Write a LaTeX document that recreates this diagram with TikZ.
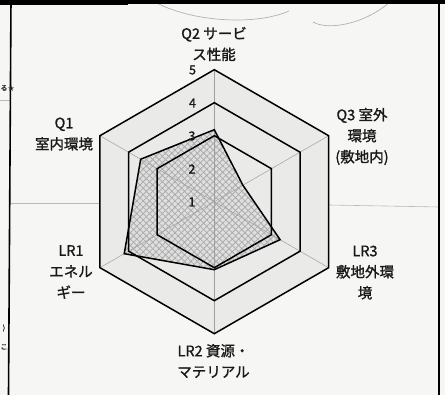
\documentclass[tikz,border=0pt]{standalone}
\usepackage{fontspec}
\newfontfamily\jp[FakeBold=1.2]{Noto Sans CJK JP}
\newfontfamily\dv{DejaVu Sans}
\usetikzlibrary{patterns.meta}
\definecolor{paper}{RGB}{246,246,244}
\definecolor{plotbg}{RGB}{234,234,232}
\tikzset{
  ring/.style={draw=black, line width=1.5pt, line join=miter},
  spoke/.style={draw=gray!75, line width=0.5pt},
  dataline/.style={draw=black, line width=1.5pt, line join=miter},
  lbl/.style={font=\jp\fontsize{14.5}{21}\selectfont, align=center, inner sep=0pt, text=black!90},
  num/.style={font=\jp\fontsize{12.5}{12.5}\selectfont, inner sep=0pt, text=black!90},
  cut/.style={font=\jp\fontsize{7}{7}\selectfont, inner sep=0pt, text=black!80},
  scanline/.style={draw=gray!55, line width=0.6pt},
  pencil/.style={draw=gray!60, line width=0.7pt},
  frameline/.style={draw=black, line width=1.6pt}
}
\begin{document}
\begin{tikzpicture}[x=1pt,y=-1pt]
\useasboundingbox (0,0) rectangle (445,395);
\fill[paper] (0,0) rectangle (445,395);
% scan artifacts
\draw[scanline] (0,100) -- (11,100);
\draw[scanline] (11,203) -- (100,203);
\draw[scanline] (329,205) -- (439,207);
\draw[pencil] (153,1) .. controls (190,22) and (255,26) .. (289,11);
\draw[pencil] (313,22) .. controls (326,30) and (362,26) .. (390,2);
\node[cut] (cutA) at (4,88) {る};
\node[cut] (cutB) at (4,328) {)};
\node[cut] (cutC) at (4,347) {こ};
% frame
\fill[black] (0,0) rectangle (445,4);
\fill[black] (0,0) rectangle (128,5.5);
\draw[frameline] (11,0) -- (8.5,395);
\draw[frameline] (439,0) -- (439,395);
\node[font=\dv\fontsize{8}{8}\selectfont, inner sep=0pt, text=black!85] (star) at (11.3,89) {★};
% chart
\coordinate (c) at (214.3,201.7);
\fill[plotbg] ([shift={(c)}]90:132pt) -- ([shift={(c)}]30:132pt) -- ([shift={(c)}]-30:132pt) -- ([shift={(c)}]-90:132pt) -- ([shift={(c)}]-150:132pt) -- ([shift={(c)}]150:132pt) -- cycle;
\coordinate (d1) at ([shift={(c)}]90:72pt);
\coordinate (d2) at ([shift={(c)}]30:33pt);
\coordinate (d3) at ([shift={(c)}]-30:76pt);
\coordinate (d4) at ([shift={(c)}]-90:68pt);
\coordinate (d5) at ([shift={(c)}]-150:104pt);
\coordinate (d6) at ([shift={(c)}]150:85pt);
\fill[gray!25] (d1) -- (d2) -- (d3) -- (d4) -- (d5) -- (d6) -- cycle;
\fill[pattern={Hatch[angle=45,distance=4.5pt,line width=0.8pt]}, pattern color=gray!65] (d1) -- (d2) -- (d3) -- (d4) -- (d5) -- (d6) -- cycle;
\foreach \a in {90,30,-30,-90,-150,150}
  \draw[spoke] (c) -- ([shift={(c)}]\a:132pt);
\foreach \r in {66,99,132}
  \draw[ring] ([shift={(c)}]90:\r pt) -- ([shift={(c)}]30:\r pt) -- ([shift={(c)}]-30:\r pt) -- ([shift={(c)}]-90:\r pt) -- ([shift={(c)}]-150:\r pt) -- ([shift={(c)}]150:\r pt) -- cycle;
\draw[dataline] (d1) -- (d2) -- (d3) -- (d4) -- (d5) -- (d6) -- cycle;
% scale numbers
\node[num] (n5) at (192.5,70) {5};
\node[num] (n4) at (192.5,103) {4};
\node[num] (n3) at (192,136) {3};
\node[num] (n2) at (192,169) {2};
\node[num] (n1) at (192,202) {1};
% axis labels
\node[lbl] (q2) at (214,44) {Q2 サービ\\ス性能};
\node[lbl] (q1) at (64,134) {Q1\\室内環境};
\node[lbl] (q3) at (362,136.5) {Q3 室外\\環境\\(敷地内)};
\node[lbl] (lr1) at (71,272) {LR1\\エネル\\ギー};
\node[lbl] (lr3) at (365,272.5) {LR3\\敷地外環\\境};
\node[lbl] (lr2) at (213.5,361) {LR2 資源・\\マテリアル};
\end{tikzpicture}
\end{document}
